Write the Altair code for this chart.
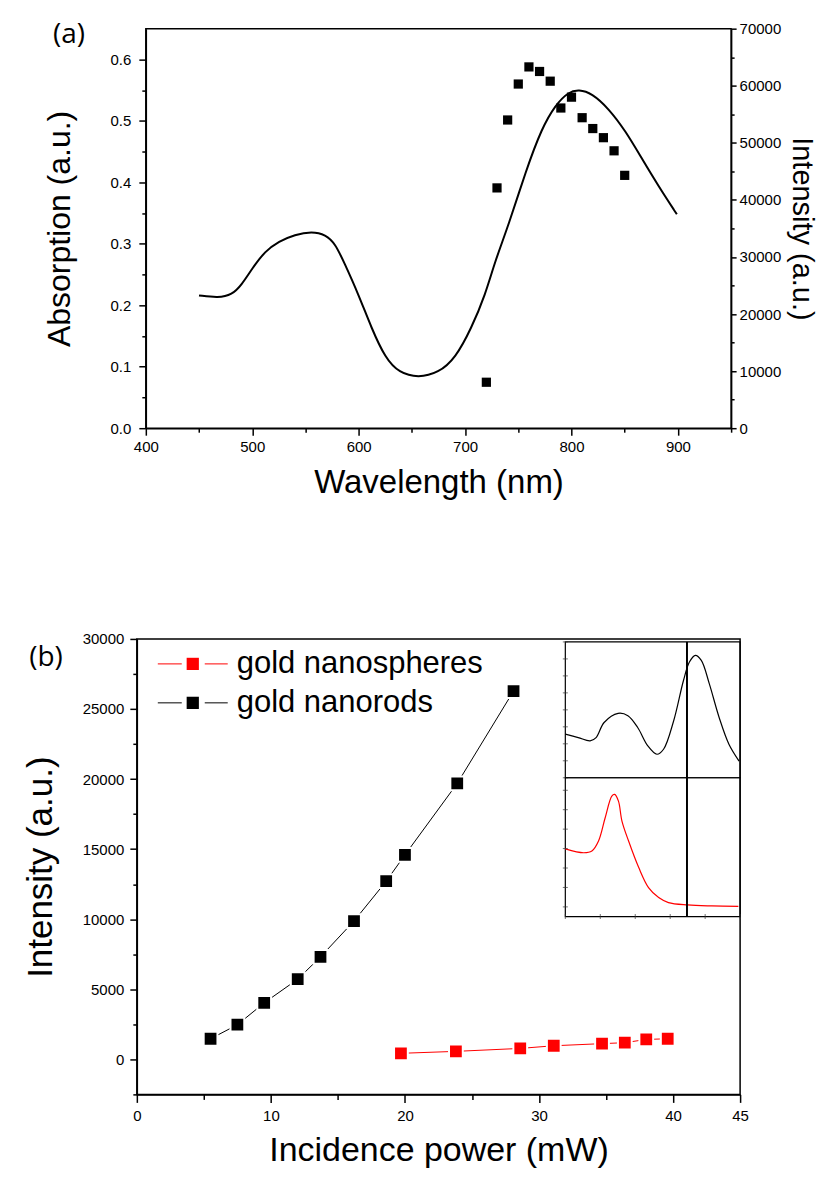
import altair as alt
import pandas as pd

# ---------------- data: panel (a) ----------------
abs_wl = [450, 468, 481, 490, 500, 512, 525, 540, 556, 569, 578, 586, 600, 612,
          625, 638, 656, 675, 691, 706, 719, 728, 741, 757, 772, 785, 797, 807,
          819, 835, 851, 866, 882, 899]
abs_val = [0.216, 0.212, 0.217, 0.233, 0.260, 0.288, 0.304, 0.315, 0.320, 0.315,
           0.300, 0.271, 0.217, 0.163, 0.114, 0.090, 0.082, 0.090, 0.114, 0.163,
           0.217, 0.271, 0.331, 0.418, 0.488, 0.526, 0.547, 0.551, 0.545, 0.520,
           0.483, 0.439, 0.393, 0.348]
pl_wl = [720, 730, 740, 750, 760, 770, 780, 790, 800, 810, 820, 830, 840, 850]
pl_int = [8050, 42100, 54000, 60300, 63300, 62500, 60800, 56100, 58000, 54400,
          52500, 50900, 48600, 44300]

a_x_ticks = list(range(400, 951, 50))
a_yl_ticks = [round(i * 0.05, 2) for i in range(13)]
a_yr_ticks = list(range(0, 70001, 5000))

# ---------------- data: panel (b) ----------------
series_names = ["gold nanospheres", "gold nanorods"]
series_colors = ["#ff0000", "#000000"]
power_rods = [5.5, 7.5, 9.5, 12.0, 13.7, 16.2, 18.6, 20.0, 23.9, 28.1]
int_rods = [1470, 2470, 4030, 5720, 7310, 9870, 12710, 14590, 19690, 26280]
power_spheres = [19.7, 23.8, 28.6, 31.1, 34.7, 36.4, 38.0, 39.6]
int_spheres = [430, 570, 780, 970, 1120, 1190, 1420, 1470]

b_x_ticks = list(range(0, 46, 5))
b_y_ticks = list(range(-2500, 30001, 2500))

# inset spectra (normalised absorbance)
inset_rod_wl = [400, 437, 471, 488, 511, 551, 579, 607, 636, 662, 681, 710, 738,
                755, 772, 789, 812, 840, 868, 897]
inset_rod_abs = [0.321, 0.296, 0.272, 0.296, 0.407, 0.474, 0.457, 0.370, 0.235,
                 0.173, 0.210, 0.420, 0.716, 0.852, 0.901, 0.864, 0.691, 0.444,
                 0.247, 0.123]
inset_sph_wl = [400, 452, 476, 495, 514, 533, 541, 552, 562, 581, 610, 638, 667,
                695, 750, 819, 895]
inset_sph_abs = [0.488, 0.460, 0.472, 0.544, 0.712, 0.868, 0.880, 0.832, 0.688,
                 0.544, 0.353, 0.209, 0.137, 0.101, 0.084, 0.077, 0.074]
inset_laser_wl = [748]
inset_wl_range = [400, 900]
inset_x_ticks = [400, 500, 600, 700, 800, 900]
inset_top_yticks = [0.125 * i for i in range(9)]
inset_bot_yticks = [0.07, 0.21, 0.35, 0.49, 0.63, 0.77, 0.91]

FONT = "Liberation Sans"
W_A, H_A = 586, 400
W_B, H_B = 604, 456

# ---------------- panel (a) ----------------
df_abs = pd.DataFrame({"wl": abs_wl, "absorption": abs_val})
df_pl = pd.DataFrame({"wl": pl_wl, "intensity": pl_int})

x_a = alt.X("wl:Q",
            scale=alt.Scale(domain=[400, 950], nice=False, zero=False),
            axis=alt.Axis(values=a_x_ticks, title="Wavelength (nm)", labelFlush=False,
                          labelExpr="datum.value % 100 === 0 ? datum.label : ''",
                          tickSize={"condition": {"test": "datum.value % 100 === 0", "value": 7}, "value": 4},
                          labelPadding=4, titlePadding=12, titleFontSize=33))

line_abs = alt.Chart(df_abs).mark_line(color="black", strokeWidth=2, interpolate="basis").encode(
    x=x_a,
    y=alt.Y("absorption:Q",
            scale=alt.Scale(domain=[0, 0.65], nice=False, zero=False),
            axis=alt.Axis(values=a_yl_ticks, orient="left", title="Absorption (a.u.)",
                          format=".1f", labelFlush=False,
                          labelExpr="abs(datum.value*10 - round(datum.value*10)) < 0.001 ? datum.label : ''",
                          tickSize={"condition": {"test": "abs(datum.value*10 - round(datum.value*10)) < 0.001", "value": 7}, "value": 4},
                          labelPadding=8, titlePadding=34, titleFontSize=32)),
)

pts_pl = alt.Chart(df_pl).mark_square(color="black", size=85, opacity=1).encode(
    x=x_a,
    y=alt.Y("intensity:Q",
            scale=alt.Scale(domain=[0, 70000], nice=False, zero=False),
            axis=alt.Axis(values=a_yr_ticks, orient="right", title="Intensity (a.u.)",
                          format="d", labelFlush=False,
                          labelExpr="datum.value % 10000 === 0 ? datum.label : ''",
                          tickSize={"condition": {"test": "datum.value % 10000 === 0", "value": 5}, "value": 3},
                          labelPadding=3, titlePadding=6, titleFontSize=29)),
)

label_a = alt.Chart(pd.DataFrame({"t": ["(a)"]})).mark_text(
    font="Open Sans", fontSize=28, align="center", baseline="middle", color="black"
).encode(x=alt.value(-77), y=alt.value(6), text="t:N")

pad_a = alt.Chart(pd.DataFrame({"t": ["pad"]})).mark_rect(opacity=0).encode(
    x=alt.value(0), x2=alt.value(1), y=alt.value(-27), y2=alt.value(-26))
pad_a_right = alt.Chart(pd.DataFrame({"t": ["pad"]})).mark_rect(opacity=0).encode(
    x=alt.value(683), x2=alt.value(684), y=alt.value(10), y2=alt.value(11))

panel_a = alt.layer(line_abs, pts_pl, label_a, pad_a, pad_a_right).resolve_scale(
    y="independent").properties(width=W_A, height=H_A)

# ---------------- panel (b) ----------------
df_b = pd.DataFrame({
    "power": power_spheres + power_rods,
    "intensity": int_spheres + int_rods,
    "series": [series_names[0]] * len(power_spheres) + [series_names[1]] * len(power_rods),
})

x_b = alt.X("power:Q",
            scale=alt.Scale(domain=[0, 45], nice=False, zero=False),
            axis=alt.Axis(values=b_x_ticks, title="Incidence power (mW)", orient="bottom",
                          labelFlush=False,
                          labelExpr="(datum.value % 10 === 0 || datum.value === 45) ? datum.label : ''",
                          tickSize={"condition": {"test": "datum.value % 10 === 0 || datum.value === 45", "value": 8}, "value": 5},
                          labelPadding=6, titlePadding=10, titleFontSize=34))
y_b = alt.Y("intensity:Q",
            scale=alt.Scale(domain=[-2500, 30000], nice=False, zero=False),
            axis=alt.Axis(values=b_y_ticks, title="Intensity (a.u.)", orient="left",
                          format="d", labelFlush=False,
                          labelExpr="(datum.value % 5000 === 0) ? datum.label : ''",
                          tickSize={"condition": {"test": "datum.value % 5000 === 0", "value": 7}, "value": 4},
                          labelPadding=6, titlePadding=24, titleFontSize=35))
color_b = alt.Color("series:N", scale=alt.Scale(domain=series_names, range=series_colors), legend=None)

lines_b = alt.Chart(df_b).mark_line(strokeWidth=1).encode(x=x_b, y=y_b, color=color_b, detail="series:N")
squares_b = alt.Chart(df_b).mark_square(size=190, opacity=1, stroke="white", strokeWidth=2).encode(
    x=x_b, y=y_b, color=color_b)
main_b = alt.layer(lines_b, squares_b)

# hand-made legend
df_leg = pd.DataFrame({"series": series_names})
y_leg = alt.Y("series:N", scale=alt.Scale(type="point", domain=series_names, range=[25, 64], padding=0), axis=None)
c_leg = alt.Color("series:N", scale=alt.Scale(domain=series_names, range=series_colors), legend=None)
leg_l = alt.Chart(df_leg).mark_rule(strokeWidth=1).encode(x=alt.value(21), x2=alt.value(45), y=y_leg, color=c_leg)
leg_r = alt.Chart(df_leg).mark_rule(strokeWidth=1).encode(x=alt.value(68), x2=alt.value(91), y=y_leg, color=c_leg)
leg_s = alt.Chart(df_leg).mark_square(size=150, opacity=1).encode(x=alt.value(56), y=y_leg, color=c_leg)
leg_t = alt.Chart(df_leg).mark_text(align="left", baseline="middle", fontSize=31, font=FONT, color="black").encode(
    x=alt.value(100), y=y_leg, text="series:N")
legend_b = alt.layer(leg_l, leg_r, leg_s, leg_t)

# inset
x_in_scale = alt.Scale(domain=inset_wl_range, range=[429, 604], nice=False, zero=False)
y_top_scale = alt.Scale(domain=[0, 1], range=[139, 3], nice=False, zero=False)
y_bot_scale = alt.Scale(domain=[0, 1], range=[278, 139], nice=False, zero=False)

df_frame = pd.DataFrame({"x0": [inset_wl_range[0]], "x1": [inset_wl_range[1]], "y0": [0], "y1": [1]})
df_laser = pd.DataFrame({"wl": inset_laser_wl, "y0": [0], "y1": [1]})
df_xt = pd.DataFrame({"wl": inset_x_ticks, "y": [0] * len(inset_x_ticks)})


def inset_panel(wl, val, color, y_scale, yticks, with_xticks):
    xq = lambda f: alt.X(f, scale=x_in_scale, axis=None)
    yq = lambda f: alt.Y(f, scale=y_scale, axis=None)
    frame = alt.Chart(df_frame).mark_rect(filled=False, stroke="black", strokeWidth=1.2).encode(
        x=xq("x0:Q"), x2="x1:Q", y=yq("y0:Q"), y2="y1:Q")
    curve = alt.Chart(pd.DataFrame({"wl": wl, "v": val})).mark_line(
        color=color, strokeWidth=1.2, interpolate="catmull-rom").encode(x=xq("wl:Q"), y=yq("v:Q"))
    laser = alt.Chart(df_laser).mark_rule(color="black", strokeWidth=2).encode(
        x=xq("wl:Q"), y=yq("y0:Q"), y2="y1:Q")
    df_yt = pd.DataFrame({"wl": [inset_wl_range[0]] * len(yticks), "v": yticks})
    ytick = alt.Chart(df_yt).mark_tick(orient="horizontal", size=5, thickness=1, color="#333333").encode(
        x=xq("wl:Q"), y=yq("v:Q"))
    layers = [frame, curve, laser, ytick]
    if with_xticks:
        xtick = alt.Chart(df_xt).mark_tick(orient="vertical", size=5, thickness=1, color="#333333").encode(
            x=xq("wl:Q"), y=yq("y:Q"))
        layers.append(xtick)
    return alt.layer(*layers)


inset_top = inset_panel(inset_rod_wl, inset_rod_abs, "black", y_top_scale, inset_top_yticks, False)
inset_bot = inset_panel(inset_sph_wl, inset_sph_abs, "#ff0000", y_bot_scale, inset_bot_yticks, True)

label_b = alt.Chart(pd.DataFrame({"t": ["(b)"]})).mark_text(
    font="Open Sans", fontSize=28, align="center", baseline="middle", color="black"
).encode(x=alt.value(-91), y=alt.value(19), text="t:N")

pad_b = alt.Chart(pd.DataFrame({"t": ["pad"]})).mark_rect(opacity=0).encode(
    x=alt.value(-136), x2=alt.value(-135), y=alt.value(10), y2=alt.value(11))

panel_b = alt.layer(main_b, legend_b, inset_top, inset_bot, label_b, pad_b).resolve_scale(
    x="independent", y="independent", color="independent").properties(width=W_B, height=H_B)

chart = alt.vconcat(panel_a, panel_b, spacing=211, center=True, bounds="flush").properties(
    padding=0, background="white"
).configure_view(
    stroke="black", strokeWidth=1.5
).configure_axis(
    grid=False, domainColor="black", domainWidth=1.5, tickColor="black", tickWidth=1.5,
    labelFont=FONT, labelFontSize=15, labelColor="black",
    titleFont=FONT, titleFontWeight="normal", titleColor="black",
)

chart.save("out.html", embed_options={"renderer": "svg", "actions": False})
